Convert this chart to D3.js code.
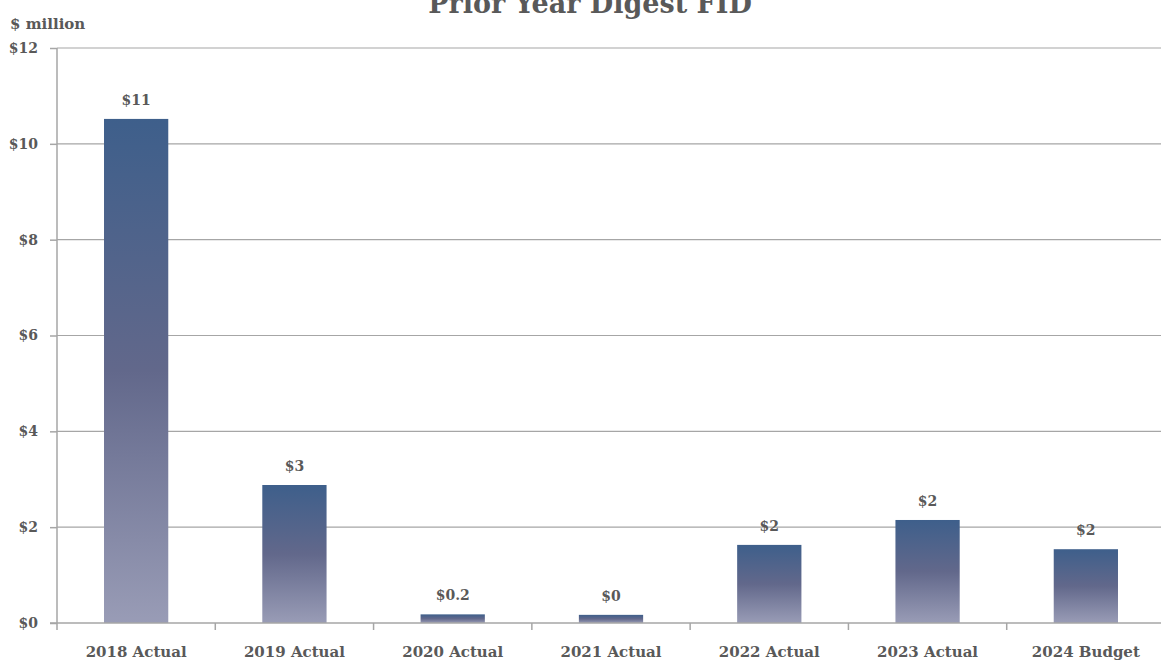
<!DOCTYPE html>
<html>
<head>
<meta charset="utf-8">
<script src="https://cdn.jsdelivr.net/npm/d3@7"></script>
<style>
  html, body { margin: 0; padding: 0; background: #fff; overflow: hidden; }
  svg { display: block; }
  text { font-family: "DejaVu Serif", "Liberation Serif", serif; font-weight: bold; fill: #595959; }
</style>
</head>
<body>
<svg id="chart" width="1161" height="663"></svg>
<script>
// Prior year digest FID by year, in $ million
const categories = ["2018 Actual", "2019 Actual", "2020 Actual", "2021 Actual", "2022 Actual", "2023 Actual", "2024 Budget"];
const values = [10.52, 2.88, 0.18, 0.17, 1.63, 2.15, 1.54];
const valueLabels = ["$11", "$3", "$0.2", "$0", "$2", "$2", "$2"];
const yTicks = [0, 2, 4, 6, 8, 10, 12];
const yTickLabels = ["$0", "$2", "$4", "$6", "$8", "$10", "$12"];

const width = 1161, height = 663;
const margin = { top: 48, right: -4, bottom: 40, left: 57 };

const svg = d3.select("#chart");

const x = d3.scaleBand()
  .domain(categories)
  .range([margin.left, width - margin.right])
  .paddingInner(0.594)
  .paddingOuter(0.297);

const y = d3.scaleLinear()
  .domain([0, 12])
  .range([height - margin.bottom, margin.top]);

// vertical gradient shared by every bar
const defs = svg.append("defs");
const grad = defs.append("linearGradient")
  .attr("id", "barFill")
  .attr("x1", 0).attr("y1", 0).attr("x2", 0).attr("y2", 1);
grad.append("stop").attr("offset", "0%").attr("stop-color", "#3e5f8b");
grad.append("stop").attr("offset", "50%").attr("stop-color", "#62688b");
grad.append("stop").attr("offset", "100%").attr("stop-color", "#999cb6");

// horizontal gridlines
svg.append("g")
  .selectAll("line")
  .data(yTicks.filter(d => d > 0))
  .join("line")
  .attr("x1", margin.left).attr("x2", width)
  .attr("y1", d => y(d)).attr("y2", d => y(d))
  .attr("stroke", "#a6a6a6").attr("stroke-width", 1.2);

// y axis
const yAxis = svg.append("g")
  .attr("transform", `translate(${margin.left},0)`)
  .call(d3.axisLeft(y).tickValues(yTicks).tickSize(7).tickPadding(12)
    .tickFormat((d, i) => yTickLabels[i]));
yAxis.select(".domain").attr("stroke", "#a6a6a6").attr("stroke-width", 1.5)
  .attr("d", `M0,${y(12)}V${y(0) + 7}`);
yAxis.selectAll(".tick line").attr("stroke", "#a6a6a6").attr("stroke-width", 1.5);
yAxis.selectAll(".tick text")
  .attr("font-size", 14).attr("fill", "#595959")
  .attr("font-family", "DejaVu Serif, serif").attr("font-weight", "bold");

// bars
svg.append("g")
  .selectAll("rect")
  .data(values)
  .join("rect")
  .attr("x", (d, i) => x(categories[i]))
  .attr("width", x.bandwidth())
  .attr("y", d => y(d))
  .attr("height", d => y(0) - y(d))
  .attr("fill", "url(#barFill)");

// x axis with ticks at category boundaries
const xAxisY = y(0);
const xg = svg.append("g");
xg.append("line")
  .attr("x1", margin.left - 7).attr("x2", width)
  .attr("y1", xAxisY).attr("y2", xAxisY)
  .attr("stroke", "#a6a6a6").attr("stroke-width", 1.5);
const step = x.step();
const boundaries = d3.range(categories.length).map(i => margin.left + i * step);
xg.selectAll("line.bound")
  .data(boundaries.slice(1))
  .join("line")
  .attr("class", "bound")
  .attr("x1", d => d).attr("x2", d => d)
  .attr("y1", xAxisY).attr("y2", xAxisY + 7)
  .attr("stroke", "#a6a6a6").attr("stroke-width", 1.5);
xg.selectAll("text")
  .data(categories)
  .join("text")
  .attr("x", d => x(d) + x.bandwidth() / 2)
  .attr("y", height - 6)
  .attr("text-anchor", "middle")
  .attr("font-size", 15)
  .text(d => d);

// value labels above bars
svg.append("g")
  .selectAll("text")
  .data(values)
  .join("text")
  .attr("x", (d, i) => x(categories[i]) + x.bandwidth() / 2)
  .attr("y", d => y(d) - 14)
  .attr("text-anchor", "middle")
  .attr("font-size", 14)
  .text((d, i) => valueLabels[i]);

// unit label and title
svg.append("text")
  .attr("x", 10).attr("y", 29)
  .attr("font-size", 15)
  .text("$ million");

svg.append("text")
  .attr("x", 590).attr("y", 13)
  .attr("text-anchor", "middle")
  .attr("font-size", 27)
  .text("Prior Year Digest FID");
</script>
</body>
</html>
